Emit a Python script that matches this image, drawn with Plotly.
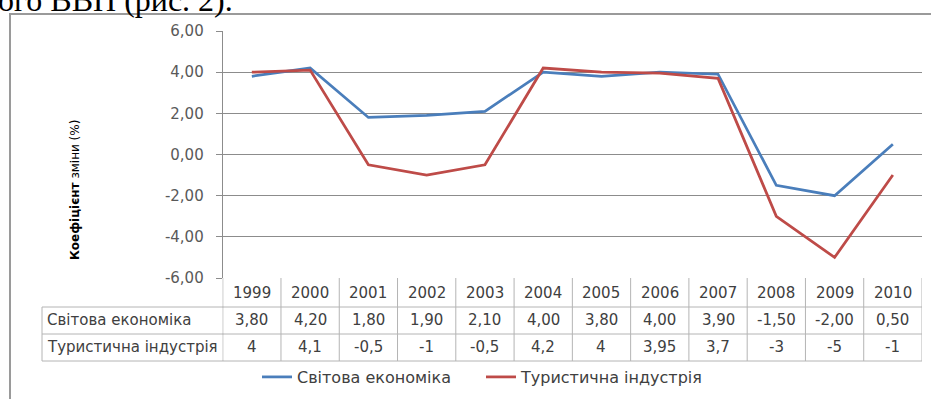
import plotly.graph_objects as go

# ---- data ---------------------------------------------------------------
years = ["1999", "2000", "2001", "2002", "2003", "2004",
         "2005", "2006", "2007", "2008", "2009", "2010"]
world_economy = [3.80, 4.20, 1.80, 1.90, 2.10, 4.00, 3.80, 4.00, 3.90, -1.50, -2.00, 0.50]
tourism_industry = [4, 4.1, -0.5, -1, -0.5, 4.2, 4, 3.95, 3.7, -3, -5, -1]
series_names = ["Світова економіка", "Туристична індустрія"]
y_tick_vals = [-6, -4, -2, 0, 2, 4, 6]
y_tick_labels = ["-6,00", "-4,00", "-2,00", "0,00", "2,00", "4,00", "6,00"]

# ---- page geometry (pixels -> paper fractions) --------------------------
W, H = 931, 399


def fx(p):
    return p / W


def fy(p):
    return 1 - p / H


PLOT_L, PLOT_R = 222.7, 922.0
PLOT_T, PLOT_B = 31.0, 278.0
ROW_LINES = [307.0, 334.0, 361.0]
HEADER_Y, ROW1_Y, ROW2_Y = 293.0, 320.0, 347.0
LABEL_COL_L = 42.0

BLUE = "#4A7EBB"
RED = "#BE4B48"
GRID = "#8C8C8C"
TABLE_LINE = "#B4B4B4"
TEXT = "#404040"
FONT = "DejaVu Sans"


def fmt_fixed(v):
    return f"{v:.2f}".replace(".", ",")


def fmt_general(v):
    return f"{v:g}".replace(".", ",")


xs = list(range(len(years)))

fig = go.Figure()
fig.add_trace(go.Scatter(x=xs, y=world_economy, mode="lines", name=series_names[0],
                         line=dict(color=BLUE, width=2.75), legend="legend"))
fig.add_trace(go.Scatter(x=xs, y=tourism_industry, mode="lines", name=series_names[1],
                         line=dict(color=RED, width=2.75), legend="legend2"))

shapes = []
annotations = []

# outer chart frame (runs off the right and bottom edges of the page)
shapes.append(dict(type="rect", xref="paper", yref="paper",
                   x0=fx(10), x1=fx(960), y0=fy(14), y1=fy(430),
                   line=dict(color="#9A9A9A", width=2), fillcolor="rgba(0,0,0,0)",
                   layer="below"))

# data table: horizontal rules
for r in ROW_LINES:
    shapes.append(dict(type="line", xref="paper", yref="paper",
                       x0=fx(LABEL_COL_L), x1=fx(PLOT_R), y0=fy(r), y1=fy(r),
                       line=dict(color=TABLE_LINE, width=1)))
# left edge of the row-label column
shapes.append(dict(type="line", xref="paper", yref="paper",
                   x0=fx(LABEL_COL_L), x1=fx(LABEL_COL_L), y0=fy(ROW_LINES[0]), y1=fy(ROW_LINES[-1]),
                   line=dict(color=TABLE_LINE, width=1)))
# column dividers, aligned with the category axis
for i in range(len(years) + 1):
    edge = i - 0.5
    color = GRID if i == 0 else TABLE_LINE
    shapes.append(dict(type="line", xref="x", yref="paper",
                       x0=edge, x1=edge, y0=fy(PLOT_B), y1=fy(ROW_LINES[-1]),
                       line=dict(color=color, width=1)))

# table text
cell_font = dict(family=FONT, size=15, color=TEXT)
for i, yr in enumerate(years):
    annotations.append(dict(x=i, y=fy(HEADER_Y), xref="x", yref="paper", text=yr,
                            showarrow=False, font=cell_font, xanchor="center", yanchor="middle"))
    annotations.append(dict(x=i, y=fy(ROW1_Y), xref="x", yref="paper",
                            text=fmt_fixed(world_economy[i]), showarrow=False, font=cell_font,
                            xanchor="center", yanchor="middle"))
    annotations.append(dict(x=i, y=fy(ROW2_Y), xref="x", yref="paper",
                            text=fmt_general(tourism_industry[i]), showarrow=False, font=cell_font,
                            xanchor="center", yanchor="middle"))
for name, yrow in zip(series_names, [ROW1_Y, ROW2_Y]):
    annotations.append(dict(x=fx(45), y=fy(yrow), xref="paper", yref="paper", text=name,
                            showarrow=False, font=cell_font, xanchor="left", yanchor="middle"))

# vertical axis title
annotations.append(dict(x=fx(75), y=fy(190), xref="paper", yref="paper",
                        text="<b>Коефіцієнт</b> зміни (%)", textangle=-90, showarrow=False,
                        font=dict(family=FONT, size=12, color="#000000"),
                        xanchor="center", yanchor="middle"))

# tail of the paragraph text above the figure
annotations.append(dict(x=fx(-4), y=fy(0), xref="paper", yref="paper",
                        text="ого ВВП (рис. 2).", showarrow=False,
                        font=dict(family="Liberation Serif", size=32, color="#000000"),
                        xanchor="left", yanchor="middle"))

legend_common = dict(orientation="h", bgcolor="rgba(0,0,0,0)", borderwidth=0,
                     font=dict(family=FONT, size=16, color=TEXT),
                     xanchor="left", yanchor="middle", itemwidth=30)

fig.update_layout(
    width=W, height=H, autosize=False,
    margin=dict(l=0, r=0, t=0, b=0, pad=0),
    paper_bgcolor="white", plot_bgcolor="white",
    separators=", ",
    showlegend=True,
    legend=dict(x=fx(257), y=fy(377), **legend_common),
    legend2=dict(x=fx(481), y=fy(377), **legend_common),
    xaxis=dict(domain=[fx(PLOT_L), fx(PLOT_R)], range=[-0.5, len(years) - 0.5],
               showgrid=False, zeroline=False, showticklabels=False, ticks="",
               showline=False, fixedrange=True, automargin=False),
    yaxis=dict(domain=[fy(PLOT_B), fy(PLOT_T)], range=[-6, 6],
               tickvals=y_tick_vals, ticktext=y_tick_labels,
               showgrid=True, gridcolor=GRID, gridwidth=1, zeroline=False,
               showline=True, linecolor=GRID, linewidth=1,
               ticks="outside", ticklen=6, tickcolor=GRID,
               ticklabelstandoff=9, automargin=False,
               tickfont=dict(family=FONT, size=15, color="#595959"), fixedrange=True),
    shapes=shapes,
    annotations=annotations,
)

fig.write_html("out.html")
